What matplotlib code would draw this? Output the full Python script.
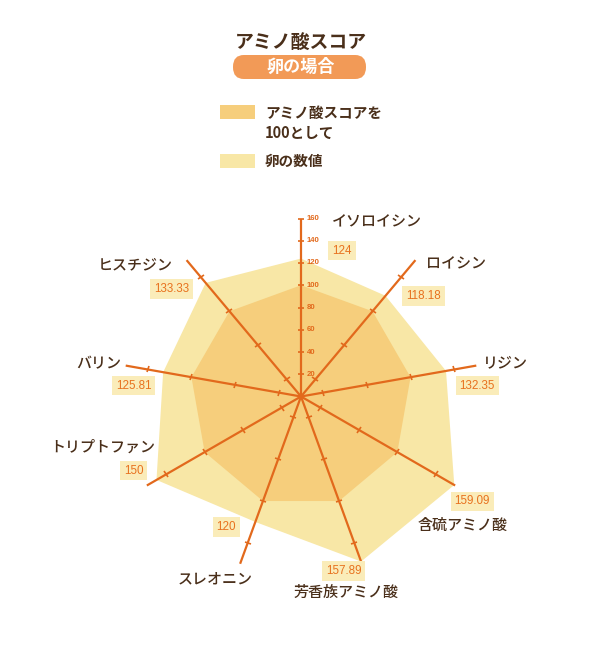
import numpy as np
import matplotlib
matplotlib.use('Agg')
import matplotlib.pyplot as plt
from matplotlib.patches import FancyBboxPatch, Rectangle
from matplotlib.markers import MarkerStyle
from matplotlib.transforms import Affine2D

# data
names = ['イソロイシン', 'ロイシン', 'リジン', '含硫アミノ酸', '芳香族アミノ酸',
         'スレオニン', 'トリプトファン', 'バリン', 'ヒスチジン']
egg = [124, 118.18, 132.35, 159.09, 157.89, 120, 150, 125.81, 133.33]
egg_text = ['124', '118.18', '132.35', '159.09', '157.89', '120', '150', '125.81', '133.33']
score = [100] * 9
rmax = 160
top_ticks = [20, 40, 60, 80, 100, 120, 140, 160]
side_ticks = [20, 60, 100, 140]

# label offsets from the end of each spoke (pixels)
name_off = [(76, -3), (41, -4), (29, 3), (7, -40), (-16, -29),
            (-25, -15), (-44, 38), (-27, 2), (-51, -5)]
val_off = [(41, -32), (8, -36), (1, -20), (17, -16), (-18, -7),
           (-14, 37), (-13, 15), (8, -20), (-15, -29)]

brown = '#4a2f1a'
orange = '#e2691c'
inner_c = '#f6ce7c'
outer_c = '#f8e7a6'
lab_bg = '#faecb9'
lab_fg = '#e8721f'
badge_c = '#f29a57'

jp = ['Noto Sans CJK JP', 'DejaVu Sans']
num = ['Liberation Sans', 'DejaVu Sans']

W, H = 600, 649
fig = plt.figure(figsize=(W / 100, H / 100), dpi=100)
fig.patch.set_facecolor('white')

def fx(x):
    return x / W

def fy(y):
    return 1 - y / H

# radar axes, centre (301, 396.5), radius 178 px
cx, cy, R = 301, 396.5, 178
ax = fig.add_axes([fx(cx - R), fy(cy + R), 2 * R / W, 2 * R / H], projection='polar')
ax.set_theta_zero_location('N')
ax.set_theta_direction(-1)
ax.set_ylim(0, rmax)
ax.axis('off')

theta = np.arange(len(names)) * 2 * np.pi / len(names)
tc = np.append(theta, theta[0])

ax.fill(tc, np.append(egg, egg[0]), color=outer_c, lw=0, zorder=1)
ax.fill(tc, np.append(score, score[0]), color=inner_c, lw=0, zorder=2)

for i, t in enumerate(theta):
    ax.plot([t, t], [0, rmax], color=orange, lw=1.6, solid_capstyle='butt',
            zorder=3, clip_on=False)
    ticks = top_ticks if i == 0 else side_ticks
    mk = MarkerStyle('_', transform=Affine2D().rotate_deg(-np.degrees(t)))
    ax.plot([t] * len(ticks), ticks, ls='none', marker=mk, ms=5, mew=1.2,
            color=orange, zorder=4, clip_on=False)

    ax.annotate(names[i], xy=(t, rmax), xytext=name_off[i], textcoords='offset pixels',
                ha='center', va='center', fontsize=10.8, fontweight='medium',
                color=brown, family=jp, annotation_clip=False)
    ax.annotate(egg_text[i], xy=(t, rmax), xytext=val_off[i], textcoords='offset pixels',
                ha='center', va='center', fontsize=8.4, color=lab_fg, family=num,
                bbox=dict(boxstyle='square,pad=0.33', fc=lab_bg, ec='none'),
                annotation_clip=False)

for v in top_ticks:
    ax.annotate(str(v), xy=(0, v), xytext=(6, 0), textcoords='offset pixels',
                ha='left', va='center', fontsize=5.6, fontweight='bold', color=orange,
                family=num, annotation_clip=False)

# title + badge
fig.text(fx(301), fy(42), 'アミノ酸スコア', ha='center', va='center', fontsize=13.6,
         fontweight='bold', color=brown, family=jp)
fig.add_artist(FancyBboxPatch((fx(233), fy(79)), fx(133), 24 / H,
                              boxstyle='round,pad=0,rounding_size=0.018',
                              transform=fig.transFigure, fc=badge_c, ec='none'))
fig.text(fx(301), fy(67), '卵の場合', ha='center', va='center', fontsize=12.3,
         fontweight='bold', color='white', family=jp)

# legend
fig.add_artist(Rectangle((fx(220), fy(119)), 35 / W, 14 / H, transform=fig.transFigure,
                         fc=inner_c, ec='none'))
fig.add_artist(Rectangle((fx(220), fy(168)), 35 / W, 14 / H, transform=fig.transFigure,
                         fc=outer_c, ec='none'))
fig.text(fx(265), fy(123), 'アミノ酸スコアを\n100として', ha='left', va='center',
         fontsize=10.5, fontweight='bold', color=brown, family=jp, linespacing=1.3)
fig.text(fx(265), fy(161), '卵の数値', ha='left', va='center',
         fontsize=10.5, fontweight='bold', color=brown, family=jp)

fig.savefig('out.png', dpi=100, facecolor='white')
